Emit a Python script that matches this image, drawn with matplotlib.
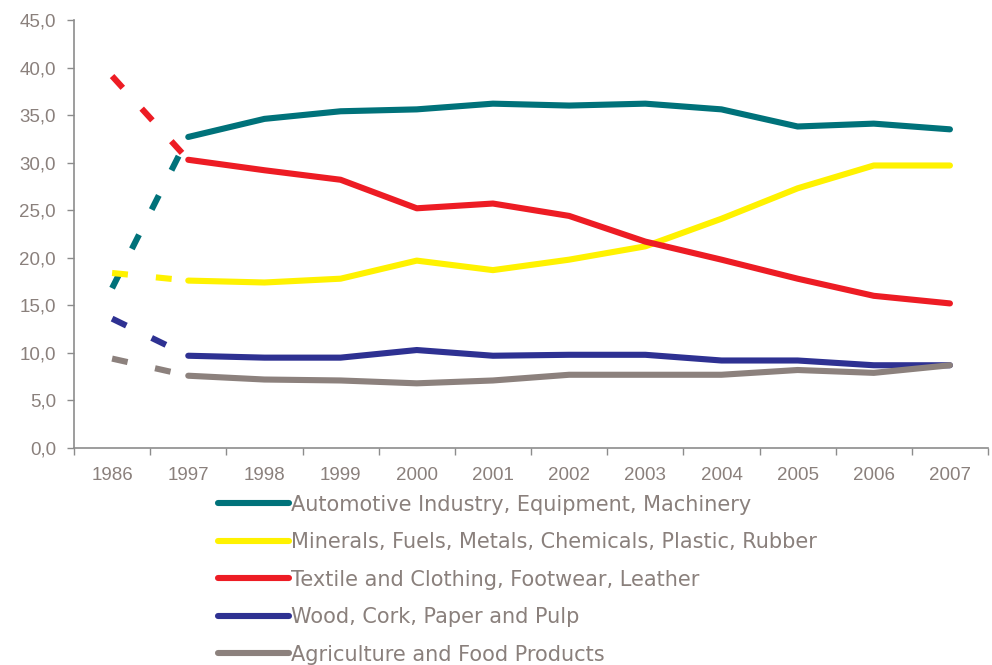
import matplotlib
matplotlib.use("Agg")
import matplotlib.pyplot as plt
from matplotlib.lines import Line2D

years = ["1986", "1997", "1998", "1999", "2000", "2001", "2002", "2003", "2004", "2005", "2006", "2007"]

automotive = [16.8, 32.7, 34.6, 35.4, 35.6, 36.2, 36.0, 36.2, 35.6, 33.8, 34.1, 33.5]
minerals   = [18.4, 17.6, 17.4, 17.8, 19.7, 18.7, 19.8, 21.2, 24.1, 27.3, 29.7, 29.7]
textile    = [39.1, 30.3, 29.2, 28.2, 25.2, 25.7, 24.4, 21.7, 19.8, 17.8, 16.0, 15.2]
wood       = [13.6, 9.7, 9.5, 9.5, 10.3, 9.7, 9.8, 9.8, 9.2, 9.2, 8.7, 8.7]
agri       = [9.4, 7.6, 7.2, 7.1, 6.8, 7.1, 7.7, 7.7, 7.7, 8.2, 7.9, 8.7]

labels = ["Automotive Industry, Equipment, Machinery",
          "Minerals, Fuels, Metals, Chemicals, Plastic, Rubber",
          "Textile and Clothing, Footwear, Leather",
          "Wood, Cork, Paper and Pulp",
          "Agriculture and Food Products"]
colors = ["#00727A", "#FFF200", "#ED1C24", "#2E3192", "#8C817D"]
series = [automotive, minerals, textile, wood, agri]

plt.rcParams['font.family'] = ['Liberation Sans', 'DejaVu Sans']
txt = "#8A807C"
axc = "#8C8C8C"

fig = plt.figure(figsize=(9.92, 6.65), dpi=100)
ax = fig.add_axes([0.0746, 0.3263, 0.9214, 0.6437])

x = list(range(len(years)))
lw = 4.4
handles = []
for vals, c, lab in zip(series, colors, labels):
    ax.plot(x[:2], vals[:2], color=c, lw=lw, dashes=(2.6, 4.6),
            solid_capstyle='butt', dash_capstyle='butt')
    ax.plot(x[1:], vals[1:], color=c, lw=lw, solid_capstyle='round',
            solid_joinstyle='round')
    handles.append(Line2D([0], [0], color=c, lw=lw, solid_capstyle='round'))

ax.set_xlim(-0.5, len(years) - 0.5)
ax.set_ylim(0, 45)
ax.set_yticks(range(0, 50, 5))
ax.set_yticklabels([f"{v},0" for v in range(0, 50, 5)])
ax.set_xticks([i - 0.5 for i in range(len(years) + 1)])
ax.set_xticklabels([])
ax.set_xticks(x, minor=True)
ax.set_xticklabels(years, minor=True)
ax.tick_params(axis='x', which='minor', length=0, pad=14, labelsize=13.5, labelcolor=txt)
ax.tick_params(axis='x', which='major', length=5, direction='out', color=axc, width=1)
ax.tick_params(axis='y', length=5, direction='out', color=axc, width=1,
               labelsize=13.5, labelcolor=txt, pad=8)
for s in ['top', 'right']:
    ax.spines[s].set_visible(False)
for s in ['left', 'bottom']:
    ax.spines[s].set_color(axc)
    ax.spines[s].set_linewidth(1.2)

leg = fig.legend(handles, labels, loc='upper left', bbox_to_anchor=(0.2198, 0.256),
                 frameon=False, prop={'family': ['DejaVu Sans'], 'size': 15},
                 handlelength=3.4, handletextpad=0.12,
                 labelspacing=0.84, borderaxespad=0, borderpad=0)
for t in leg.get_texts():
    t.set_color(txt)

fig.savefig("out.png", dpi=100)
